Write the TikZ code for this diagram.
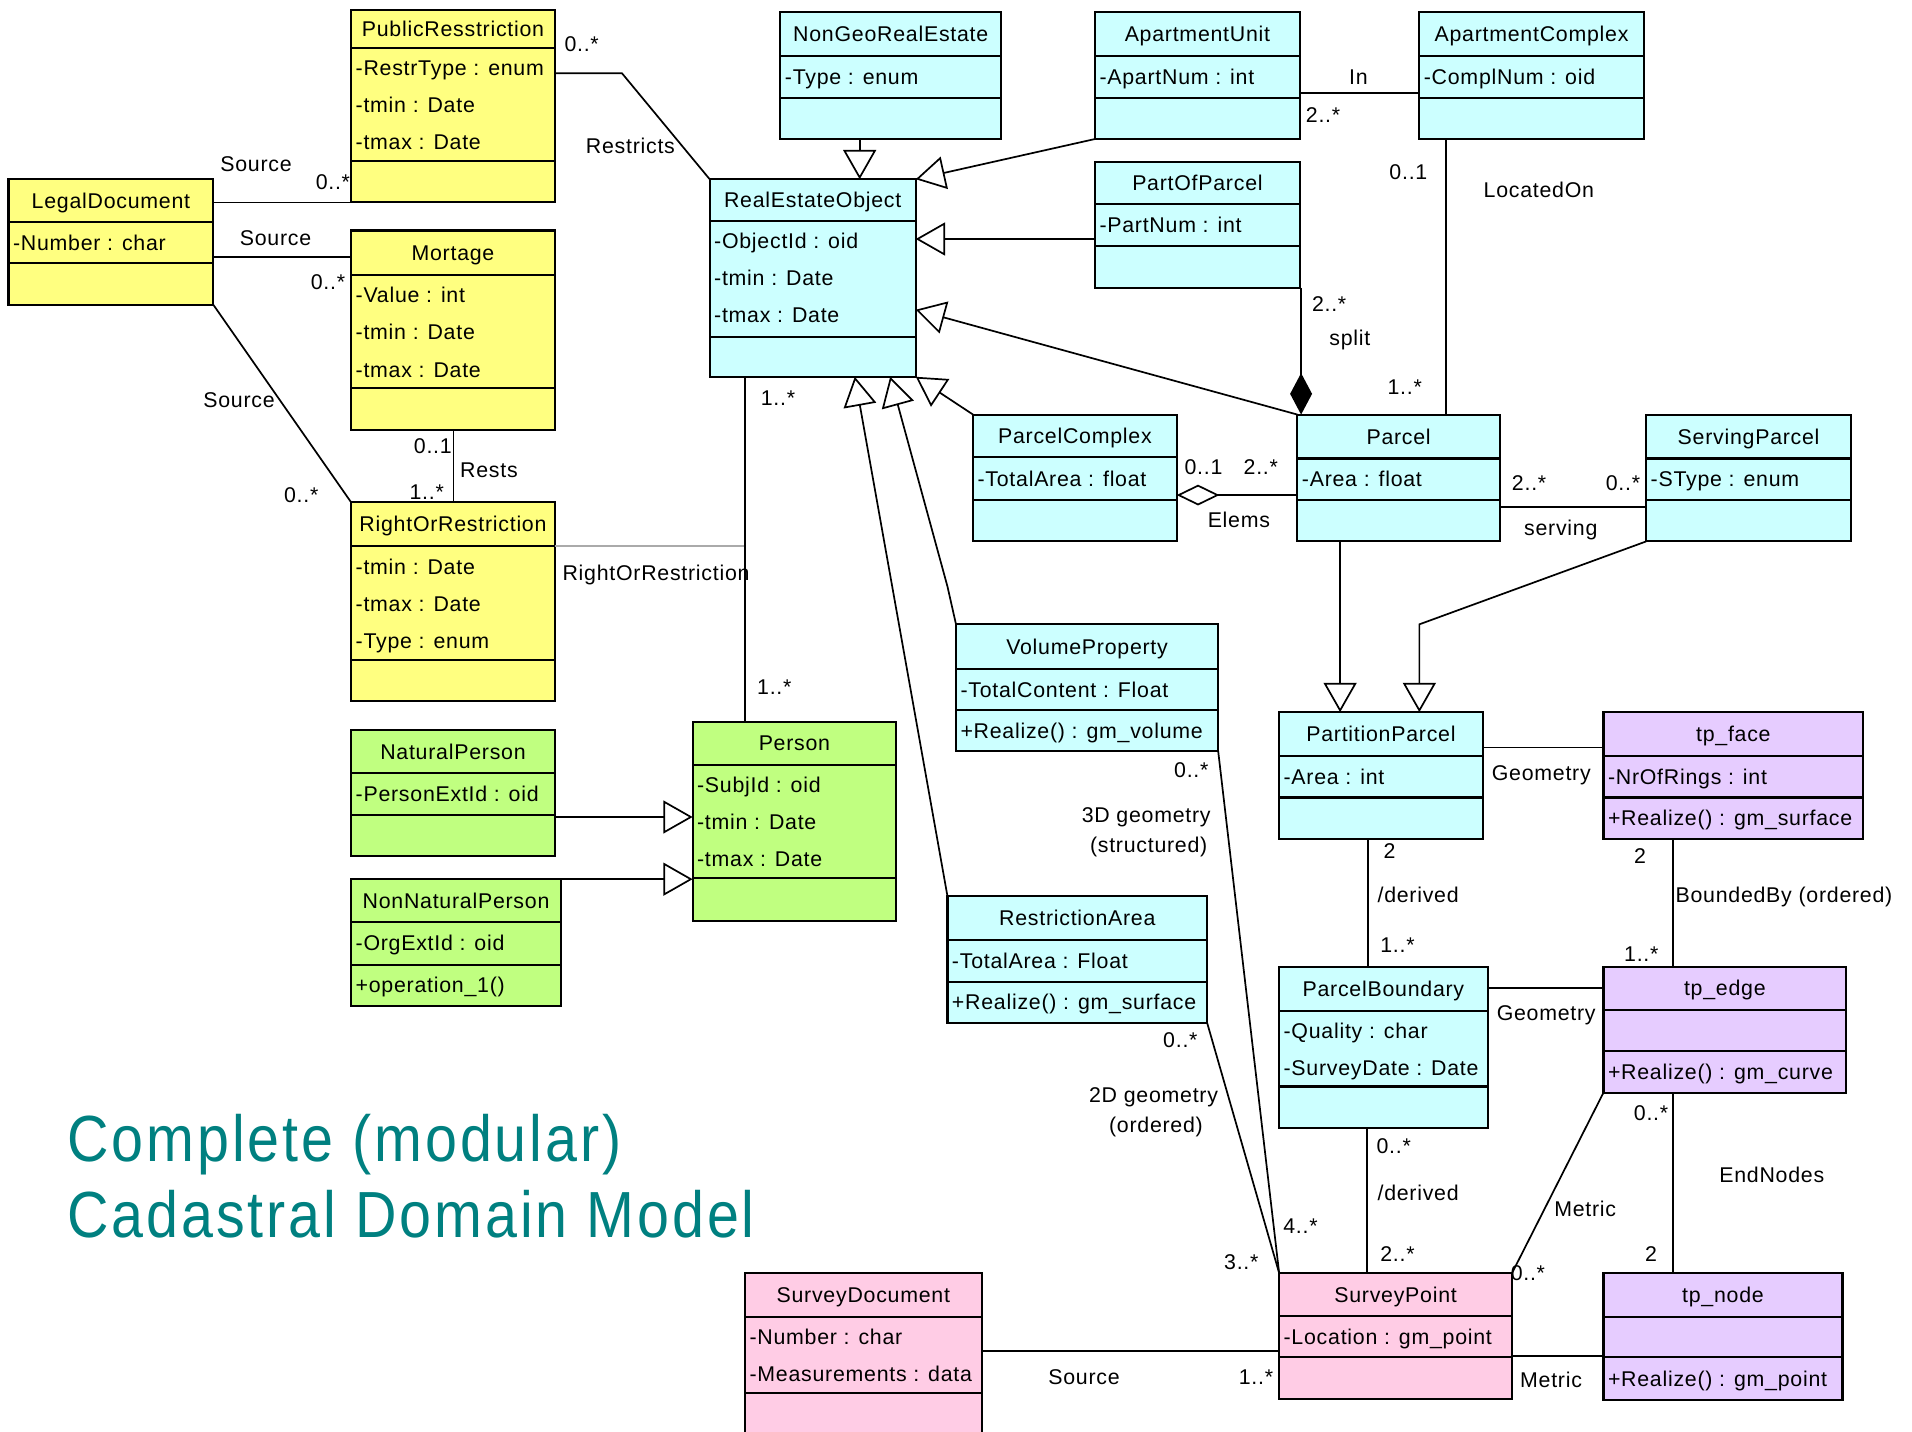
\documentclass[tikz,border=0pt]{standalone}
\usepackage{fontspec}
\setmainfont{Liberation Sans}
\newfontfamily\umlfam[LetterSpace=3.5]{Liberation Sans}
\newfontfamily\ttlfam[FakeStretch=0.88,LetterSpace=4.5]{Liberation Sans}
\usetikzlibrary{arrows.meta}
\definecolor{cyanbox}{RGB}{204,255,255}
\definecolor{yelbox}{RGB}{255,255,128}
\definecolor{grnbox}{RGB}{192,255,128}
\definecolor{pinkbox}{RGB}{255,204,229}
\definecolor{lavbox}{RGB}{230,204,255}
\definecolor{titleteal}{RGB}{0,128,128}
\definecolor{linkgray}{RGB}{170,170,170}
\newcommand\umlsize{\umlfam\fontsize{17.5}{24.6}\selectfont}
\newcounter{txtc}
\tikzset{
  clsbox/.style={draw=black, line width=1.7pt, inner sep=0pt, outer sep=0pt},
  sepline/.style={draw=black, line width=1.7pt},
  ttltxt/.style={font=\umlsize, inner sep=0pt, text height=12.5pt, text depth=0pt},
  attrtxt/.style={font=\umlsize, inner sep=0pt, anchor=west, text height=12.5pt, text depth=0pt},
  lbltxt/.style={font=\umlsize, inner sep=0pt, text height=12.5pt, text depth=0pt, align=center},
  assoc/.style={draw=black, line width=1.4pt},
  grayassoc/.style={draw=linkgray, line width=1.4pt},
  gen/.style={assoc, -{Triangle[open, length=24pt, width=27pt]}},
  comp/.style={assoc, -{Diamond[length=34pt, width=18pt]}},
  aggr/.style={assoc, -{Diamond[open, length=35pt, width=17pt]}},
  titletxt/.style={font=\ttlfam\fontsize{53.5}{62}\selectfont, text=titleteal, inner sep=0pt, anchor=base west}
}
% name, fill, x1, x2, ytop, yheader, yattr, ybottom, title
\newcommand\umlcls[9]{%
  \node[clsbox, fill=#2, minimum width={#4-#3}, minimum height={#8-#5}] (#1) at ({(#3+#4)/2},{(#5+#8)/2}) {};
  \draw[sepline] (#1.west |- 0,#6) -- (#1.east |- 0,#6) (#1.west |- 0,#7) -- (#1.east |- 0,#7);
  \node[ttltxt] (#1-t) at ({(#3+#4)/2},{(#5+#6)/2}) {#9};
}
\newcommand\umlattr[3]{\stepcounter{txtc}\node[attrtxt] (a\arabic{txtc}) at (#1,#2) {#3};}
\newcommand\umllbl[3]{\stepcounter{txtc}\node[lbltxt] (l\arabic{txtc}) at (#1,#2) {#3};}
\begin{document}
\begin{tikzpicture}[x=1pt,y=-1pt]
\useasboundingbox (0,0) rectangle (1568,1174.2);
\clip (0,0) rectangle (1568,1174.2);

% ---------- classes ----------
\umlcls{pr}{yelbox}{288}{455}{8}{39}{132}{166}{PublicResstriction}
\umlattr{291.5}{55.5}{-RestrType : enum}
\umlattr{291.5}{86}{-tmin : Date}
\umlattr{291.5}{116.5}{-tmax : Date}

\umlcls{ld}{yelbox}{7}{175}{147}{182}{216}{250}{LegalDocument}
\umlattr{10.5}{199}{-Number : char}

\umlcls{mo}{yelbox}{288}{455}{189}{225.5}{318.5}{353}{Mortage}
\umlattr{291.5}{242}{-Value : int}
\umlattr{291.5}{272.5}{-tmin : Date}
\umlattr{291.5}{303}{-tmax : Date}

\umlcls{ror}{yelbox}{288}{455}{412}{448}{541}{575}{RightOrRestriction}
\umlattr{291.5}{464.5}{-tmin : Date}
\umlattr{291.5}{495}{-tmax : Date}
\umlattr{291.5}{525.5}{-Type : enum}

\umlcls{np}{grnbox}{288}{455}{599}{634}{668}{702}{NaturalPerson}
\umlattr{291.5}{651}{-PersonExtId : oid}

\umlcls{nnp}{grnbox}{288}{460}{721}{756}{791}{825}{NonNaturalPerson}
\umlattr{291.5}{773.5}{-OrgExtId : oid}
\umlattr{291.5}{808}{+operation\_1()}

\umlcls{reo}{cyanbox}{582}{751}{147}{181}{276}{309}{RealEstateObject}
\umlattr{585.5}{197.5}{-ObjectId : oid}
\umlattr{585.5}{228}{-tmin : Date}
\umlattr{585.5}{258.5}{-tmax : Date}

\umlcls{ngre}{cyanbox}{640}{821}{10}{46}{80}{114}{NonGeoRealEstate}
\umlattr{643.5}{63}{-Type : enum}

\umlcls{au}{cyanbox}{898}{1066}{10}{46}{80}{114}{ApartmentUnit}
\umlattr{901.5}{63}{-ApartNum : int}

\umlcls{ac}{cyanbox}{1164}{1348}{10}{46}{80}{114}{ApartmentComplex}
\umlattr{1167.5}{63}{-ComplNum : oid}

\umlcls{pop}{cyanbox}{898}{1066}{133}{167}{202}{236}{PartOfParcel}
\umlattr{901.5}{184.5}{-PartNum : int}

\umlcls{pc}{cyanbox}{798}{965}{340}{375}{410}{444}{ParcelComplex}
\umlattr{801.5}{392.5}{-TotalArea : float}

\umlcls{pa}{cyanbox}{1064}{1230}{340}{376}{410}{444}{Parcel}
\umlattr{1067.5}{393}{-Area : float}

\umlcls{sp}{cyanbox}{1350}{1518}{340}{376}{410}{444}{ServingParcel}
\umlattr{1353.5}{393}{-SType : enum}

\umlcls{vp}{cyanbox}{784}{999}{512}{549}{582}{616}{VolumeProperty}
\umlattr{787.5}{565.5}{-TotalContent : Float}
\umlattr{787.5}{599}{+Realize() : gm\_volume}

\umlcls{ra}{cyanbox}{777}{990}{735}{771}{805.5}{839}{RestrictionArea}
\umlattr{780.5}{788}{-TotalArea : Float}
\umlattr{780.5}{822}{+Realize() : gm\_surface}

\umlcls{pe}{grnbox}{568}{735}{592}{627}{720}{755}{Person}
\umlattr{571.5}{643.5}{-SubjId : oid}
\umlattr{571.5}{674}{-tmin : Date}
\umlattr{571.5}{704.5}{-tmax : Date}

\umlcls{ppar}{cyanbox}{1049}{1216}{584}{620}{654}{688}{PartitionParcel}
\umlattr{1052.5}{637}{-Area : int}

\umlcls{tf}{lavbox}{1315}{1528}{584}{620}{654}{688}{tp\_face}
\umlattr{1318.5}{637}{-NrOfRings : int}
\umlattr{1318.5}{671}{+Realize() : gm\_surface}

\umlcls{pb}{cyanbox}{1049}{1220}{793}{829}{891}{925}{ParcelBoundary}
\umlattr{1052.5}{845.5}{-Quality : char}
\umlattr{1052.5}{876}{-SurveyDate : Date}

\umlcls{te}{lavbox}{1315}{1514}{793}{828}{862}{896}{tp\_edge}
\umlattr{1318.5}{879}{+Realize() : gm\_curve}

\umlcls{spt}{pinkbox}{1049}{1240}{1044}{1079}{1113}{1147}{SurveyPoint}
\umlattr{1052.5}{1096}{-Location : gm\_point}

\umlcls{tn}{lavbox}{1315}{1511}{1044}{1080}{1113}{1148}{tp\_node}
\umlattr{1318.5}{1130.5}{+Realize() : gm\_point}

\umlcls{sd}{pinkbox}{611}{805}{1044}{1080}{1142.5}{1195}{SurveyDocument}
\umlattr{614.5}{1096.6}{-Number : char}
\umlattr{614.5}{1126.7}{-Measurements : data}

% ---------- connectors ----------
\draw[assoc] (pr.east |- 0,60) -- (510,60) -- (reo.north west);
\draw[assoc] (ld.east |- pr.south west) -- (pr.south west);
\draw[assoc] (ld.east |- 0,211) -- (mo.west |- 0,211);
\draw[assoc] (ld.south east) -- (ror.north west);
\draw[assoc] (372,0 |- mo.south) -- (372,0 |- ror.north);
\coordinate (rorlink) at (611,448);
\draw[grayassoc] (ror.east |- 0,448) -- (rorlink);
\draw[assoc] (611,0 |- reo.south) -- (611,0 |- pe.north);
\draw[gen] (np.east |- 0,670) -- (pe.west |- 0,670);
\draw[gen] (nnp.north east) -- (pe.west |- nnp.north east);
\draw[gen] (705,0 |- ngre.south) -- (705,0 |- reo.north);
\draw[gen] (au.south west) -- (reo.north east);
\draw[gen] (pop.west |- 0,196) -- (reo.east |- 0,196);
\draw[gen] (pa.north west) -- (reo.east |- 0,254);
\draw[gen] (pc.north west) -- (reo.south east);
\draw[gen] (vp.north west) -- (777,481) -- (730,0 |- reo.south);
\draw[gen] (ra.north west) -- (701,0 |- reo.south);
\draw[assoc] (au.east |- 0,76.5) -- (ac.west |- 0,76.5);
\draw[assoc] (1186,0 |- ac.south) -- (1186,0 |- pa.north);
\draw[comp] (1067,0 |- pop.south) -- (1067,0 |- pa.north);
\draw[aggr] (pa.west |- 0,406) -- (pc.east |- 0,406);
\draw[assoc] (pa.east |- 0,416) -- (sp.west |- 0,416);
\draw[gen] (1099,0 |- pa.south) -- (1099,0 |- ppar.north);
\draw[gen] (sp.south west) -- (1164,512) -- (1164,0 |- ppar.north);
\draw[assoc] (ppar.east |- 0,613) -- (tf.west |- 0,613);
\draw[assoc] (1122,0 |- ppar.south) -- (1122,0 |- pb.north);
\draw[assoc] (1372,0 |- tf.south) -- (1372,0 |- te.north);
\draw[assoc] (pb.east |- 0,810) -- (te.west |- 0,810);
\draw[assoc] (1121,0 |- pb.south) -- (1121,0 |- spt.north);
\draw[assoc] (1372,0 |- te.south) -- (1372,0 |- tn.north);
\draw[assoc] (te.south west) -- (spt.north east);
\draw[assoc] (spt.east |- 0,1112) -- (tn.west |- 0,1112);
\draw[assoc] (sd.east |- 0,1108) -- (spt.west |- 0,1108);
\draw[assoc] (vp.south east) -- (spt.north west);
\draw[assoc] (ra.south east) -- (spt.north west);

% ---------- labels ----------
\umllbl{477}{36}{0..*}
\umllbl{517}{120}{Restricts}
\umllbl{210}{134}{Source}
\umllbl{273}{149}{0..*}
\umllbl{226}{195}{Source}
\umllbl{269}{231}{0..*}
\umllbl{196}{328}{Source}
\umllbl{247}{406}{0..*}
\umllbl{355}{366}{0..1}
\umllbl{401}{385}{Rests}
\umllbl{350}{403}{1..*}
\umllbl{538}{470}{RightOrRestriction}
\umllbl{638}{326}{1..*}
\umllbl{635}{563}{1..*}
\umllbl{1114}{63}{In}
\umllbl{1085}{94}{2..*}
\umllbl{1155}{141}{0..1}
\umllbl{1262}{156}{LocatedOn}
\umllbl{1152}{317}{1..*}
\umllbl{1090}{249}{2..*}
\umllbl{1107}{277}{split}
\umllbl{987}{383}{0..1}
\umllbl{1034}{383}{2..*}
\umllbl{1016}{426}{Elems}
\umllbl{1254}{396}{2..*}
\umllbl{1331}{396}{0..*}
\umllbl{1280}{433}{serving}
\umllbl{1264}{634}{Geometry}
\umllbl{1139.5}{698}{2}
\umllbl{1163}{734}{/derived}
\umllbl{1146}{775}{1..*}
\umllbl{1345}{702}{2}
\umllbl{1463}{734}{BoundedBy (ordered)}
\umllbl{1346}{782}{1..*}
\umllbl{1268}{831}{Geometry}
\umllbl{1143}{940}{0..*}
\umllbl{1163}{978}{/derived}
\umllbl{1146}{1028}{2..*}
\umllbl{1354}{913}{0..*}
\umllbl{1453}{963.5}{EndNodes}
\umllbl{1354}{1028}{2}
\umllbl{1300}{991}{Metric}
\umllbl{1253}{1044}{0..*}
\umllbl{1272}{1132}{Metric}
\umllbl{889}{1129}{Source}
\umllbl{1030}{1129}{1..*}
\umllbl{977}{631}{0..*}
\umllbl{940}{668.3}{3D geometry}
\umllbl{942}{692.9}{(structured)}
\umllbl{1066.5}{1005}{4..*}
\umllbl{968}{853}{0..*}
\umllbl{946}{898}{2D geometry}
\umllbl{948}{922.5}{(ordered)}
\umllbl{1018}{1035}{3..*}

% ---------- title ----------
\node[titletxt] (title1) at (55,952.6) {Complete (modular)};
\node[titletxt] (title2) at (55,1014.6) {Cadastral Domain Model};
\end{tikzpicture}
\end{document}
